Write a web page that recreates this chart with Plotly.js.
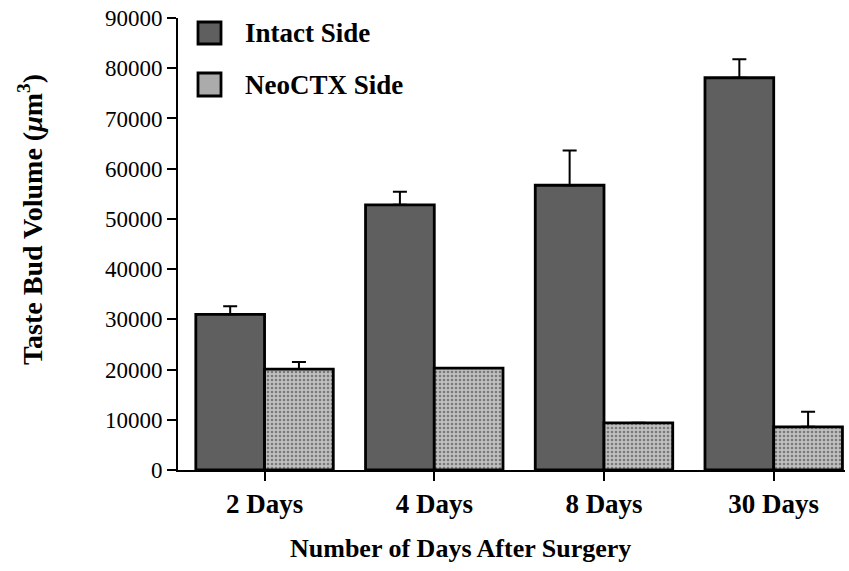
<!DOCTYPE html>
<html>
<head>
<meta charset="utf-8">
<script src="https://cdn.plot.ly/plotly-3.0.1.min.js"></script>
<style>html,body{margin:0;padding:0;background:#fff;}#chart{width:849px;height:571px;}</style>
</head>
<body>
<div id="chart"></div>
<script>
var categories = ["2 Days", "4 Days", "8 Days", "30 Days"];
var intactValues = [31000, 52800, 56700, 78100];
var intactErrors = [1600, 2600, 6900, 3700];
var neoValues = [20100, 20300, 9400, 8600];
var neoErrors = [1400, 0, 0, 3000];
var seriesNames = ["Intact Side", "NeoCTX Side"];
var yTicks = [0, 10000, 20000, 30000, 40000, 50000, 60000, 70000, 80000, 90000];

var serif = "Liberation Serif, Times New Roman, serif";

var traces = [
  {
    type: "bar", name: seriesNames[0], x: categories, y: intactValues,
    marker: {color: "#5f5f5f", line: {color: "#000", width: 2.8}},
    error_y: {type: "data", symmetric: false, array: intactErrors, arrayminus: intactValues.map(function(){return 0;}), color: "#000", thickness: 2, width: 7},
    showlegend: false
  },
  {
    type: "bar", name: seriesNames[1], x: categories, y: neoValues,
    marker: {color: "#a9a9a9", line: {color: "#000", width: 2.8},
      pattern: {shape: ".", bgcolor: "#c0c0c0", fgcolor: "#7a7a7a", size: 4, solidity: 0.35}},
    error_y: {type: "data", symmetric: false, array: neoErrors, arrayminus: neoValues.map(function(){return 0;}), color: "#000", thickness: 2, width: 7},
    showlegend: false
  }
];

var W = 849, H = 571, L = 178, R = 4, T = 18, B = 101;
var pw = W - L - R, ph = H - T - B;
function px(xp){ return (xp - L) / pw; }
function py(yp){ return (H - B - yp) / ph; }

var layout = {
  width: W, height: H,
  margin: {l: L, r: R, t: T, b: B, pad: 0},
  paper_bgcolor: "#fff", plot_bgcolor: "#fff",
  barmode: "group", bargap: 0.19, bargroupgap: 0,
  font: {family: serif, color: "#000"},
  xaxis: {
    type: "category", range: [-0.51, 3.42],
    showline: true, linecolor: "#000", linewidth: 2,
    ticks: "outside", ticklen: 9, tickwidth: 2, tickcolor: "#000",
    tickfont: {family: serif, size: 27, weight: "bold"},
    showgrid: false, zeroline: false, fixedrange: true
  },
  yaxis: {
    range: [0, 90000], tickvals: yTicks, ticktext: yTicks.map(String),
    showline: true, linecolor: "#000", linewidth: 2,
    ticks: "outside", ticklen: 9, tickwidth: 2, tickcolor: "#000",
    tickfont: {family: serif, size: 23},
    showgrid: false, zeroline: false, fixedrange: true
  },
  shapes: [
    {type: "rect", xref: "paper", yref: "paper", x0: px(198), x1: px(221), y0: py(44), y1: py(22), fillcolor: "#5f5f5f", line: {color: "#000", width: 2.8}},
    {type: "rect", xref: "paper", yref: "paper", x0: px(198), x1: px(221), y0: py(96), y1: py(73), fillcolor: "#ababab", line: {color: "#000", width: 2.8}}
  ],
  annotations: [
    {xref: "paper", yref: "paper", x: px(243), y: py(33), xanchor: "left", yanchor: "middle", showarrow: false, text: "<b>" + seriesNames[0] + "</b>", font: {family: serif, size: 27}},
    {xref: "paper", yref: "paper", x: px(243), y: py(85), xanchor: "left", yanchor: "middle", showarrow: false, text: "<b>" + seriesNames[1] + "</b>", font: {family: serif, size: 27}},
    {xref: "paper", yref: "paper", x: px(460), y: py(548), xanchor: "center", yanchor: "middle", showarrow: false, text: "<b>Number of Days After Surgery</b>", font: {family: serif, size: 26}},
    {xref: "paper", yref: "paper", x: px(30), y: py(220), xanchor: "center", yanchor: "middle", textangle: -90, showarrow: false, text: "<b>Taste Bud Volume (<i>μ</i>m<sup>3</sup>)</b>", font: {family: serif, size: 28}}
  ]
};

Plotly.newPlot("chart", traces, layout, {displayModeBar: false, staticPlot: true});
</script>
</body>
</html>
